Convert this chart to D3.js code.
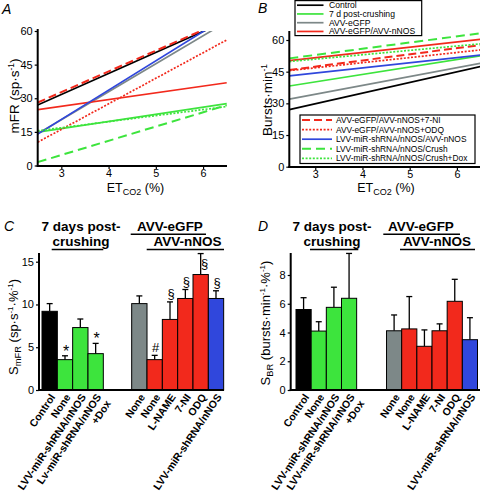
<!DOCTYPE html>
<html><head><meta charset="utf-8">
<script src="https://cdn.jsdelivr.net/npm/d3@7"></script>
<style>body{margin:0;background:#fff}svg{display:block;font-family:"Liberation Sans",Arial,sans-serif}</style>
</head><body>
<script>
// ---------- DATA ----------
const lineSeries = ["Control","7 d post-crushing","AVV-eGFP","AVV-eGFP/AVV-nNOS","AVV-eGFP/AVV-nNOS+7-NI","AVV-eGFP/AVV-nNOS+ODQ","LVV-miR-shRNA/nNOS/AVV-nNOS","LVV-miR-shRNA/nNOS/Crush","LVV-miR-shRNA/nNOS/Crush+Dox"];
const etA = [2.5, 6.5];
const mfrStart = [27.0, 14.9, 14.2, 24.9, 28.1, 10.4, 14.0, 1.5, 15.5];
const mfrEnd   = [64.5, 27.6, 64.1, 36.9, 65.1, 56.0, 66.3, 26.9, 26.3];
const etB = [2.45, 6.5];
const burstStart = [27.0, 38.2, 32.0, 50.2, 45.8, 45.5, 43.0, 51.3, 49.8];
const burstEnd   = [47.5, 52.5, 49.0, 60.3, 57.6, 55.3, 52.9, 63.2, 58.2];
const etTicks = [3, 4, 5, 6];
const mfrTicks = [0, 15, 30, 45, 60];
const burstTicks = [0, 15, 30, 45, 60];

const barLabels = ["Control","None","LVV-miR-shRNA/nNOS","Lv-miR-shRNA/nNOS|+Dox","None","None","L-NAME","7-NI","ODQ","LVV-miR-shRNA/nNOS"];
const barLabelsD = ["Control","None","LVV-miR-shRNA/nNOS","LVV-miR-shRNA/nNOS|+Dox","None","None","L-NAME","7-NI","ODQ","LVV-miR-shRNA/nNOS"];
const barGroup = [0,0,0,0,1,1,1,1,1,1];
const barColorKey = ["black","green","green","green","gray","red","red","red","red","blue"];
const smfrMean = [9.2, 3.55, 7.3, 4.25, 10.1, 3.55, 8.25, 10.7, 13.5, 10.7];
const smfrErr  = [0.9, 0.45, 1.0, 1.2, 0.9, 0.5, 2.05, 1.05, 2.45, 0.9];
const smfrSig  = ["","*","","*","","#","§","§","§","§"];
const smfrTicks = [0, 5, 10, 15];
const sbrMean = [5.6, 4.1, 5.75, 6.38, 4.12, 4.25, 3.04, 4.12, 6.17, 3.5];
const sbrErr  = [0.82, 0.65, 1.4, 3.12, 1.1, 2.25, 1.14, 0.48, 1.53, 1.53];
const sbrTicks = [0, 2, 4, 6, 8];

// ---------- STYLES ----------
const C = {black:"#000000", green:"#3de43d", gray:"#7d8888", red:"#f2291c", blue:"#3047dc"};
const lineColor = [C.black, C.green, C.gray, C.red, C.red, C.red, C.blue, C.green, C.green];
const lineDash  = [null, null, null, null, "8,4", "2,1.6", null, "9,5", "2,1.6"];
const lineWidth = [1.7, 1.7, 1.7, 1.7, 2.0, 1.7, 1.7, 2.0, 1.7];

const svg = d3.select("body").append("svg").attr("width",480).attr("height",496);

function panelLetter(x, y, t){
  svg.append("text").attr("x",x).attr("y",y).attr("font-size",14).attr("font-style","italic").text(t);
}
function yLabel(g, x, y, parts, fs){
  const t = g.append("text").attr("transform",`translate(${x},${y}) rotate(-90)`).attr("text-anchor","middle").attr("font-size",fs);
  parts.forEach(p=>{
    const s = t.append("tspan").text(p.t);
    if(p.sup){ s.attr("font-size",fs*0.62).attr("dy",-fs*0.38); }
    else if(p.sub){ s.attr("font-size",fs*0.72).attr("dy",fs*0.25); }
    if(p.reset) s.attr("dy",p.reset);
  });
}
function etLabel(cx, y){
  const t = svg.append("text").attr("x",cx).attr("y",y).attr("text-anchor","middle").attr("font-size",12.5);
  t.append("tspan").text("ET");
  t.append("tspan").text("CO2").attr("font-size",9).attr("dy",3);
  t.append("tspan").text(" (%)").attr("dy",-3);
}
function styleAxis(a, fs){
  a.select(".domain").remove();
  a.selectAll("text").attr("font-size",fs||11).attr("font-family","inherit");
  a.selectAll("line").attr("stroke-width",1.2);
}

// ---------- PANEL A ----------
{
  const x = d3.scaleLinear().domain(etA).range([37.7, 226.7]);
  const y = d3.scaleLinear().domain([0,60]).range([165.5, 31]);
  svg.append("clipPath").attr("id","clipA").append("rect").attr("x",38).attr("y",31).attr("width",190).attr("height",135);
  const g = svg.append("g").attr("clip-path","url(#clipA)");
  const line = d3.line().x(d=>x(d[0])).y(d=>y(d[1]));
  lineSeries.forEach((s,i)=>{
    g.append("path").attr("d", line([[etA[0],mfrStart[i]],[etA[1],mfrEnd[i]]]))
      .attr("fill","none").attr("stroke",lineColor[i]).attr("stroke-width",lineWidth[i])
      .attr("stroke-dasharray",lineDash[i]);
  });
  const ax = svg.append("g").attr("transform","translate(0,166)").call(d3.axisBottom(x).tickValues(etTicks).tickFormat(d3.format("d")).tickSize(3).tickPadding(0).tickSizeOuter(0));
  const ay = svg.append("g").attr("transform","translate(37.7,0)").call(d3.axisLeft(y).tickValues(mfrTicks).tickSize(3).tickPadding(2).tickSizeOuter(0));
  styleAxis(ax, 10.8); styleAxis(ay);
  svg.append("line").attr("x1",37.7).attr("x2",37.7).attr("y1",29).attr("y2",167).attr("stroke","#000").attr("stroke-width",2);
  svg.append("line").attr("x1",36.7).attr("x2",227).attr("y1",166).attr("y2",166).attr("stroke","#000").attr("stroke-width",2);
  yLabel(svg, 19, 96, [{t:"mFR (sp·s"},{t:"-1",sup:true},{t:")",reset:13.5*0.38}], 13.5);
  etLabel(135.5, 191.5);
  panelLetter(2, 14, "A");
}

// ---------- PANEL B ----------
{
  const x = d3.scaleLinear().domain(etB).range([289.3, 480.5]);
  const y = d3.scaleLinear().domain([0,60]).range([166.7, 40]);
  const g = svg.append("g");
  const line = d3.line().x(d=>x(d[0])).y(d=>y(d[1]));
  lineSeries.forEach((s,i)=>{
    g.append("path").attr("d", line([[etB[0],burstStart[i]],[etB[1],burstEnd[i]]]))
      .attr("fill","none").attr("stroke",lineColor[i]).attr("stroke-width",lineWidth[i])
      .attr("stroke-dasharray",lineDash[i]);
  });
  const ax = svg.append("g").attr("transform","translate(0,167)").call(d3.axisBottom(x).tickValues(etTicks).tickFormat(d3.format("d")).tickSize(3).tickPadding(0).tickSizeOuter(0));
  const ay = svg.append("g").attr("transform","translate(289.3,0)").call(d3.axisLeft(y).tickValues(burstTicks).tickSize(3).tickPadding(2).tickSizeOuter(0));
  styleAxis(ax, 10.8); styleAxis(ay);
  svg.append("line").attr("x1",289.3).attr("x2",289.3).attr("y1",31).attr("y2",168).attr("stroke","#000").attr("stroke-width",2);
  svg.append("line").attr("x1",288.3).attr("x2",480).attr("y1",167).attr("y2",167).attr("stroke","#000").attr("stroke-width",2);
  yLabel(svg, 272, 100, [{t:"Bursts·min"},{t:"-1",sup:true}], 13.5);
  etLabel(386, 191.5);
  panelLetter(258, 13, "B");

  function legend(items, bx, by, bw, bh, rowY0, rowH, sx0, sx1, tx, fs){
    const lg = svg.append("g");
    lg.append("rect").attr("x",bx).attr("y",by).attr("width",bw).attr("height",bh).attr("fill","#fff").attr("stroke","#000").attr("stroke-width",1.2);
    items.forEach((i,k)=>{
      const yy = rowY0 + k*rowH;
      lg.append("line").attr("x1",sx0).attr("x2",sx1).attr("y1",yy).attr("y2",yy)
        .attr("stroke",lineColor[i]).attr("stroke-width",lineWidth[i]).attr("stroke-dasharray",lineDash[i]);
      lg.append("text").attr("x",tx).attr("y",yy).attr("dy","0.35em").attr("font-size",fs).text(lineSeries[i]);
    });
  }
  legend([0,1,2,3], 295, 0.6, 126.7, 35, 5.2, 8.75, 297, 323.5, 329, 8.6);
  legend([4,5,6,7,8], 300, 115, 175, 48.5, 120, 9.6, 302, 332, 336, 8.4);
}

// ---------- BAR PANELS ----------
function barPanel(opt){
  const {axisX, yRange, yMax, ticks, mean, err, sig, labels, slotRange, gap} = opt;
  const y = d3.scaleLinear().domain([0, ticks[ticks.length-1]]).range(yRange);
  const nSlots = barLabels.length + gap;
  const xs = d3.scaleLinear().domain([0, nSlots]).range(slotRange);
  const w = xs(1) - xs(0);
  const slot = i => i + (barGroup[i] ? gap : 0);
  const g = svg.append("g");
  mean.forEach((m,i)=>{
    const x0 = xs(slot(i)), cx = x0 + w/2;
    const yt = y(m + err[i]);
    g.append("line").attr("x1",cx).attr("x2",cx).attr("y1",y(m)).attr("y2",yt).attr("stroke","#000").attr("stroke-width",1.3);
    g.append("line").attr("x1",cx-3).attr("x2",cx+3).attr("y1",yt).attr("y2",yt).attr("stroke","#000").attr("stroke-width",1.3);
    g.append("rect").attr("x",x0).attr("y",y(m)).attr("width",w).attr("height",y(0)-y(m))
      .attr("fill",C[barColorKey[i]]).attr("stroke","#000").attr("stroke-width",1);
    if(sig && sig[i]){
      let cy = yt - 8.5, sx = cx + 1;
      if(cy < yRange[1] + 2){ cy = yRange[1] + 1.5; sx = cx + 4; }
      const fs = sig[i]==="*" ? 16 : 13;
      const off = sig[i]==="*" ? 0.6*fs : 0.36*fs;
      g.append("text").attr("x",sx).attr("y",cy+off).attr("text-anchor","middle").attr("font-size",fs).text(sig[i]);
    }
    const parts = labels[i].split("|");
    const t = g.append("text").attr("transform",`translate(${cx+3},${y(0)+5}) rotate(-56)`)
      .attr("text-anchor","end").attr("font-size",10.5).attr("font-weight","bold");
    parts.forEach((p,k)=> t.append("tspan").attr("x",0).attr("dy",k===0 ? "0.35em" : "1.1em").text(p));
  });
  const ay = svg.append("g").attr("transform",`translate(${axisX},0)`).call(d3.axisLeft(y).tickValues(ticks).tickSize(3).tickPadding(2).tickSizeOuter(0));
  styleAxis(ay);
  svg.append("line").attr("x1",axisX).attr("x2",axisX).attr("y1",yMax).attr("y2",y(0)+1).attr("stroke","#000").attr("stroke-width",2);
  svg.append("line").attr("x1",axisX-1).attr("x2",opt.axisEnd).attr("y1",y(0)).attr("y2",y(0)).attr("stroke","#000").attr("stroke-width",2);
}
function header(c1, c2a, c2b, l1, l2a, l2b){
  const hd = svg.append("g").attr("font-weight","bold").attr("font-size",13.5).attr("text-anchor","middle");
  hd.append("text").attr("x",c1).attr("y",231).text("7 days post-");
  hd.append("text").attr("x",c1).attr("y",246).text("crushing");
  hd.append("text").attr("x",c2a).attr("y",231).text("AVV-eGFP");
  hd.append("text").attr("x",c2b).attr("y",246).text("AVV-nNOS");
  [[l1,249.5],[l2a,234.2],[l2b,249.5]].forEach(([l,yy])=>{
    svg.append("line").attr("x1",l[0]).attr("x2",l[1]).attr("y1",yy).attr("y2",yy).attr("stroke","#000").attr("stroke-width",1.6);
  });
}

// PANEL C
barPanel({axisX:39, yRange:[390,261.7], yMax:253, ticks:smfrTicks, mean:smfrMean, err:smfrErr, sig:smfrSig,
  labels:barLabels, slotRange:[42, 42+11.85*15.33], gap:1.85, axisEnd:224});
header(81, 170, 187.5, [51.7,103.3], [130.7,206], [146.7,224]);
yLabel(svg, 18, 327, [{t:"S"},{t:"mFR",sub:true},{t:" (sp·s",reset:-13*0.25},{t:"-1",sup:true},{t:"·%",reset:13*0.38},{t:"-1",sup:true},{t:")",reset:13*0.38}], 13);
panelLetter(4, 231, "C");

// PANEL D
barPanel({axisX:290.7, yRange:[390,275], yMax:253, ticks:sbrTicks, mean:sbrMean, err:sbrErr, sig:null,
  labels:barLabelsD, slotRange:[296, 477.5], gap:1.97, axisEnd:480});
header(332, 421, 437, [310,358.3], [383.3,460], [400,475]);
yLabel(svg, 270, 323, [{t:"S"},{t:"BR",sub:true},{t:" (bursts·min",reset:-13*0.25},{t:"-1",sup:true},{t:"·%",reset:13*0.38},{t:"-1",sup:true},{t:")",reset:13*0.38}], 13);
panelLetter(258, 231, "D");
</script>
</body></html>
